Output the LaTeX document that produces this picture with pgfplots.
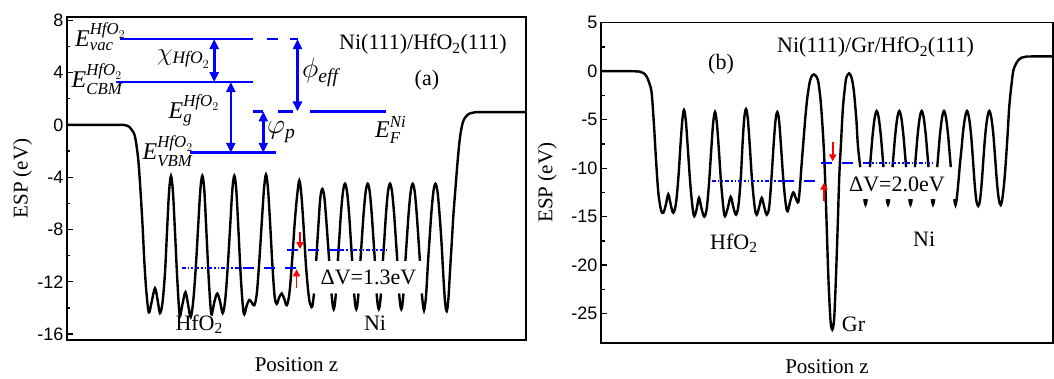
\RequirePackage{fix-cm}
\documentclass[border=0pt]{standalone}
\usepackage{amsmath}
\usepackage{fontspec}
\setmainfont{Liberation Serif}
\newfontfamily\arialfont{Liberation Sans}
\usepackage{pgfplots}
\pgfplotsset{compat=1.18}
\usetikzlibrary{arrows.meta}
\newcommand\tickfont{\arialfont\fontsize{18}{20}\selectfont}
\newcommand\labfont{\fontsize{21}{24}\selectfont}
\newcommand\annfont{\fontsize{22}{25}\selectfont}
\newcommand\eqfont{\fontsize{24}{28}\selectfont}
\newcommand\grfont{\fontsize{28}{32}\selectfont}
\newcommand\chifont{\fontsize{25}{29}\selectfont}
\newcommand\ti[1]{\text{\textit{#1}}}
\pgfplotsset{
  espaxis/.style={
    anchor=south west, scale only axis, clip=false,
    unbounded coords=jump,
    xtick=\empty, ytick pos=left, tick align=inside,
    minor y tick num=1,
    major tick length=6pt, minor tick length=3.5pt,
    tick style={black, line width=1.3pt},
    axis line style={line width=1.6pt},
    yticklabel style={font=\tickfont},
    label style={font=\labfont},
    xlabel={Position z}, ylabel={ESP (eV)},
  },
  curve/.style={black, line width=2.4pt, smooth, tension=0.55, no markers},
  bl/.style={blue, line width=2.6pt, no markers},
  bdash/.style={blue, line width=2.3pt, no markers, dash pattern=on 11pt off 10pt},
  bdot/.style={blue, line width=2.2pt, no markers, dash pattern=on 4pt off 2pt on 1.6pt off 2pt on 1.6pt off 2pt},
  barr/.style={blue, line width=2.6pt, no markers, {Triangle[length=10pt,width=9pt]}-{Triangle[length=10pt,width=9pt]}},
  rarr/.style={red, line width=1.8pt, no markers, -{Triangle[length=7pt,width=7pt]}},
}
\begin{document}
\begin{tikzpicture}
\path[use as bounding box] (0pt,0pt) rectangle (1054pt,378pt);
% ---------------- panel (a) ----------------
\begin{axis}[espaxis, at={(67pt,38pt)}, width=459pt, height=323pt,
  xmin=67, xmax=526, ymin=-16.46, ymax=8.26,
  ytick={-16,-12,-8,-4,0,4,8}, yticklabels={-16,-12,-8,-4,0,4,8},
  xlabel style={at={(axis description cs:0.5,0)}, anchor=center, yshift=-25pt},
  ylabel style={at={(axis description cs:-0.097,0.5)}, anchor=center}]
\addplot[curve] coordinates {
(67,0) (110,0) (124,0) (128,-0.08) (131.5,-0.35) (135,-0.9) (138.3,-2.7) (140.7,-5.3) (142.7,-7.9) (144.3,-10.4) (146.3,-12.7) (148.8,-14.35)
(151.5,-13.6) (155,-12.5) (157.8,-13.5) (160,-14.4)
(162.5,-13.6) (165,-11.3) (167,-8.2) (169,-5.2) (171,-3.9) (173,-5.2) (175,-8.2) (177,-11.4) (178.8,-13.8) (180,-14.6)
(182.8,-13.6) (185.5,-12.8) (188.2,-13.8) (190.7,-14.7)
(193.2,-13.5) (195.8,-10.9) (198.2,-7.7) (200.3,-5.0) (202.3,-3.9) (204.3,-5.0) (206.3,-8.0) (208.4,-11.3) (210.4,-13.8) (211.7,-14.5)
(214.5,-13.5) (217.3,-12.9) (220,-13.5) (222.7,-14.4)
(225.2,-13.4) (227.7,-10.9) (230.2,-7.7) (232.3,-5.0) (234.3,-3.9) (236.3,-5.0) (238.4,-8.0) (240.6,-11.4) (242.8,-13.8) (244.3,-14.5)
(246.8,-13.8) (249.3,-13.4) (251.8,-13.6) (254.3,-13.8)
(256.8,-12.9) (259.4,-10.3) (261.9,-7.3) (264,-4.9) (266,-3.8) (268,-4.9) (270.1,-7.5) (272.3,-10.6) (274.6,-13.1) (276.7,-13.7)
(279.2,-13.2) (281.7,-12.9) (284.2,-13.3) (286.7,-13.8)
(289.4,-12.9) (292.2,-10.3) (294.9,-7.3) (297.3,-5.3) (299.3,-4.25) (301.3,-5.3) (303.6,-7.8) (306.1,-10.9) (308.9,-13.2) (310.7,-13.8) (312.3,-13.9) (314,-12.9)
(315,nan)
(316.2,-10.4) (318.3,-7.8) (320.3,-5.6) (322.3,-4.9) (324.3,-5.5) (326.3,-7.3) (327.8,-8.9) (329.2,-10.4)
(330,nan)
(331.5,-12.9) (332.7,-13.8) (333.7,-14.1) (334.7,-13.8) (335.9,-12.9)
(336.5,nan)
(337.8,-10.4) (339.2,-8.8) (341,-6.7) (343,-5.1) (345,-4.5) (347,-5.1) (349,-6.7) (350.8,-8.8) (352.2,-10.4)
(353,nan)
(354.1,-12.9) (355.3,-13.8) (356.3,-14.1) (357.3,-13.8) (358.5,-12.9)
(359.5,nan)
(360.4,-10.4) (361.8,-8.8) (363.7,-6.7) (365.7,-5.1) (367.7,-4.5) (369.7,-5.1) (371.6,-6.7) (373.5,-8.8) (374.9,-10.4)
(375.5,nan)
(376.6,-12.9) (377.8,-13.8) (378.8,-14.1) (379.8,-13.8) (381,-12.9)
(382,nan)
(382.9,-10.4) (384.3,-8.8) (386.1,-6.7) (388,-5.1) (390,-4.5) (392,-5.1) (394,-6.7) (395.9,-8.8) (397.3,-10.4)
(398,nan)
(399.1,-12.9) (400.3,-13.8) (401.3,-14.1) (402.3,-13.8) (403.5,-12.9)
(404.5,nan)
(405.4,-10.4) (406.8,-8.8) (408.7,-6.7) (410.7,-5.1) (412.7,-4.5) (414.7,-5.1) (416.6,-6.7) (418.5,-8.8) (419.9,-10.4)
(420.8,nan)
(421.8,-12.9) (423,-13.8) (424,-14.2) (425,-13.8) (426.2,-12.9) (428.1,-10.4) (429.5,-8.8) (431.4,-6.7) (433.4,-5.1) (435.4,-4.5)
(437.5,-5.1) (439.5,-6.8) (441.5,-9.0) (443.3,-11.5) (445,-13.5) (446.7,-14.25) (448.4,-13.3) (450,-11.2) (451.7,-9.1) (453.3,-7.0) (455,-5.3)
(457.7,-2.7) (460,-0.95) (462.5,0.1) (465,0.55) (469,0.85) (474,0.95) (480,0.98) (526,0.98)
};
% energy levels
\addplot[bl] coordinates {(120,6.57) (253.3,6.57)};
\addplot[bl] coordinates {(266.7,6.57) (278.3,6.57)};
\addplot[bl] coordinates {(290,6.57) (298,6.57)};
\addplot[bl] coordinates {(116,3.28) (253,3.28)};
\addplot[bl] coordinates {(190,-2.13) (275.5,-2.13)};
\addplot[bl] coordinates {(253.3,1.03) (263.3,1.03)};
\addplot[bl] coordinates {(278.3,1.03) (293.3,1.03)};
\addplot[bl] coordinates {(310,1.03) (386,1.03)};
\addplot[barr] coordinates {(214.2,6.57) (214.2,3.28)};
\addplot[barr] coordinates {(230.8,3.28) (230.8,-2.13)};
\addplot[barr] coordinates {(297.5,6.57) (297.5,1.03)};
\addplot[barr] coordinates {(263.3,1.03) (263.3,-2.13)};
% average potentials
\addplot[bdot] coordinates {(181.7,-10.95) (243.3,-10.95)};
\addplot[bdash] coordinates {(243.3,-10.95) (298.3,-10.95)};
\addplot[bdash] coordinates {(286.7,-9.58) (340,-9.58)};
\addplot[bdot] coordinates {(340,-9.58) (386.7,-9.58)};
\addplot[rarr] coordinates {(300,-8.2) (300,-9.5)};
\addplot[rarr] coordinates {(296.5,-12.45) (296.5,-11.05)};
% labels
\node[anchor=base west, inner sep=0, font=\eqfont] at (axis cs:75,6.0) {$\ti{E}^{\ti{HfO}_{2}}_{\ti{vac}}$};
\node[anchor=base west, inner sep=0, font=\eqfont] at (axis cs:71.5,2.84) {$\ti{E}^{\ti{HfO}_{2}}_{\ti{CBM}}$};
\node[anchor=base west, inner sep=0, font=\eqfont] at (axis cs:168.5,0.47) {$\ti{E}^{\ti{HfO}_{2}}_{\ti{g}}$};
\node[anchor=base west, inner sep=0, font=\eqfont] at (axis cs:142.5,-2.67) {$\ti{E}^{\ti{HfO}_{2}}_{\ti{VBM}}$};
\node[anchor=base west, inner sep=0, font=\chifont] at (axis cs:157,4.95) {$\chi_{\ti{HfO}_{2}}$};
\node[anchor=base west, inner sep=0, font=\grfont] at (axis cs:302,3.6) {$\phi_{\ti{eff}}$};
\node[anchor=base west, inner sep=0, font=\grfont] at (axis cs:267,-0.68) {$\varphi_{\ti{p}}$};
\node[anchor=base west, inner sep=0, font=\eqfont] at (axis cs:375,-0.94) {$\ti{E}^{\ti{Ni}}_{\ti{F}}$};
\node[anchor=base west, inner sep=0, font=\annfont] at (axis cs:339,5.75) {Ni(111)/HfO\textsubscript{2}(111)};
\node[anchor=base west, inner sep=0, font=\annfont] at (axis cs:414.5,3.0) {(a)};
\node[anchor=base west, inner sep=0, font=\annfont] at (axis cs:175.3,-15.74) {HfO\textsubscript{2}};
\node[anchor=base west, inner sep=0, font=\annfont] at (axis cs:363.8,-15.74) {Ni};
\node[anchor=base west, inner sep=0, font=\annfont] at (axis cs:320.5,-12.2) {ΔV=1.3eV};
\end{axis}
% ---------------- panel (b) ----------------
\begin{axis}[espaxis, at={(601pt,35.3pt)}, width=452pt, height=320pt,
  xmin=601, xmax=1053, ymin=-28, ymax=5,
  ytick={-25,-20,-15,-10,-5,0,5}, yticklabels={-25,-20,-15,-10,-5,0,5},
  xlabel style={at={(axis description cs:0.5,0)}, anchor=center, yshift=-24pt},
  ylabel style={at={(axis description cs:-0.119,0.5)}, anchor=center}]
\addplot[curve] coordinates {
(601,0) (630,0) (640,-0.05) (643.5,-0.2) (646.7,-0.55) (649.5,-1.3) (651.7,-2.3) (654,-5.6) (656,-9.1) (658.3,-12.5) (661,-14.3) (663.3,-14.6)
(665.8,-13.8) (668.3,-12.7) (670.8,-13.8) (673.3,-14.6)
(676,-13.6) (678.5,-10.8) (680.5,-7.6) (682.3,-5.1) (684,-4.0) (685.8,-5.1) (687.8,-7.9) (690.2,-11.5) (692.7,-14.2) (694.3,-14.95)
(696.7,-14.2) (699,-13.06) (701.6,-14.2) (704.3,-15.0)
(706.8,-14.1) (709.2,-11.3) (711.3,-8.0) (713.2,-5.3) (715,-4.2) (716.8,-5.3) (718.8,-8.0) (721,-11.4) (723.5,-14.2) (725,-14.95)
(727.8,-14.1) (730.7,-12.96) (733.3,-14.0) (736,-14.8)
(738.5,-13.8) (740.8,-11.0) (742.5,-7.6) (744.2,-4.9) (746,-3.9) (747.8,-4.9) (749.8,-7.7) (752,-11.2) (754.8,-14.1) (756.7,-14.8)
(759.2,-14.0) (761.7,-13.06) (764.2,-14.0) (766.7,-14.8)
(769.2,-14.0) (771.5,-11.0) (773.6,-7.6) (775.5,-5.1) (777.3,-4.2) (779.1,-5.1) (781.1,-7.9) (783.5,-11.4) (786,-13.9) (787.7,-14.44)
(790.5,-13.3) (793.3,-12.5) (795.8,-13.1) (798.3,-13.5)
(800,-11.9) (801.6,-9.6) (803.3,-7.4) (805,-5.2) (806.7,-3.3) (808.3,-2.0) (810,-1.0) (812,-0.45) (814,-0.33) (816,-0.5) (818.3,-1.1) (820.5,-2.9) (822,-4.9) (823.5,-7.4) (825,-10.8) (826.7,-16) (828.3,-21.1) (830,-24.9) (831,-26.2) (832.3,-26.65) (833.5,-26.2) (834.5,-24.9) (836,-21.1) (837.7,-16) (839.3,-10.8) (841,-7.4) (842.2,-5.0) (843.3,-3.3) (845.7,-1.0) (847.4,-0.4) (849,-0.23) (850.6,-0.4) (852.3,-1.0) (853.8,-2.0) (855,-3.3) (856.5,-5.2) (857.7,-7.4) (859,-8.8) (860.3,-9.9)
(862,nan)
(864.3,-13.2) (865.5,-13.75) (866.7,-13.2)
(868,nan)
(869.9,-9.9) (871.2,-8.3) (872.7,-6.5) (874.7,-4.8) (876.7,-4.1) (878.7,-4.8) (880.7,-6.5) (882.2,-8.3) (883.5,-9.9)
(885,nan)
(886.8,-13.2) (888,-13.75) (889.2,-13.2)
(890.5,nan)
(892.5,-9.9) (893.8,-8.3) (895.3,-6.5) (897.3,-4.8) (899.3,-4.1) (901.3,-4.8) (903.3,-6.5) (904.8,-8.3) (906.1,-9.9)
(907.5,nan)
(909.3,-13.2) (910.5,-13.75) (911.7,-13.2)
(913,nan)
(914.9,-9.9) (916.2,-8.3) (917.7,-6.5) (919.7,-4.8) (921.7,-4.1) (923.7,-4.8) (925.7,-6.5) (927.2,-8.3) (928.5,-9.9)
(930,nan)
(931.8,-13.2) (933,-13.75) (934.2,-13.2)
(935.5,nan)
(937.2,-9.9) (938.5,-8.3) (940,-6.5) (942,-4.8) (944,-4.1) (946,-4.8) (948,-6.5) (949.5,-8.3) (950.8,-9.9)
(952.5,nan)
(954.3,-13.2) (955.5,-13.8) (956.8,-13.1) (958.5,-11.3) (960,-9.5) (961.5,-8.0) (963,-6.3) (965,-4.8) (967,-4.1) (969,-4.8) (971,-6.5) (972.8,-8.9) (974.5,-11.4) (976.3,-13.3) (978.2,-13.9)
(980,-13.3) (981.8,-11.4) (983.5,-8.9) (985.3,-6.5) (987.3,-4.8) (989.3,-4.1) (991.3,-4.8) (993.3,-6.5) (995.1,-8.9) (996.9,-11.4) (998.8,-13.2) (1000.7,-13.8)
(1002.7,-12.9) (1005,-10.5) (1007.3,-7.0) (1009.3,-3.6) (1011.7,-1.2) (1013.2,0.0) (1015,0.55) (1018,1.1) (1021.7,1.4) (1026,1.5) (1032,1.52) (1053,1.52)
};
\addplot[bdot] coordinates {(711.7,-11.34) (783.3,-11.34)};
\addplot[bdash] coordinates {(783.3,-11.34) (823.3,-11.34)};
\addplot[bdash] coordinates {(820.7,-9.45) (866,-9.45)};
\addplot[bdot] coordinates {(866,-9.45) (933.3,-9.45)};
\addplot[rarr] coordinates {(832.7,-7.3) (832.7,-9.3)};
\addplot[rarr] coordinates {(824,-13.4) (824,-11.5)};
\node[anchor=base west, inner sep=0, font=\annfont] at (axis cs:777,1.9) {Ni(111)/Gr/HfO\textsubscript{2}(111)};
\node[anchor=base west, inner sep=0, font=\annfont] at (axis cs:708,0.18) {(b)};
\node[anchor=base west, inner sep=0, font=\annfont] at (axis cs:710,-18.4) {HfO\textsubscript{2}};
\node[anchor=base west, inner sep=0, font=\annfont] at (axis cs:913,-18.05) {Ni};
\node[anchor=base west, inner sep=0, font=\annfont] at (axis cs:841.7,-26.8) {Gr};
\node[anchor=base west, inner sep=0, font=\annfont] at (axis cs:849,-12.37) {ΔV=2.0eV};
\end{axis}
\end{tikzpicture}
\end{document}
